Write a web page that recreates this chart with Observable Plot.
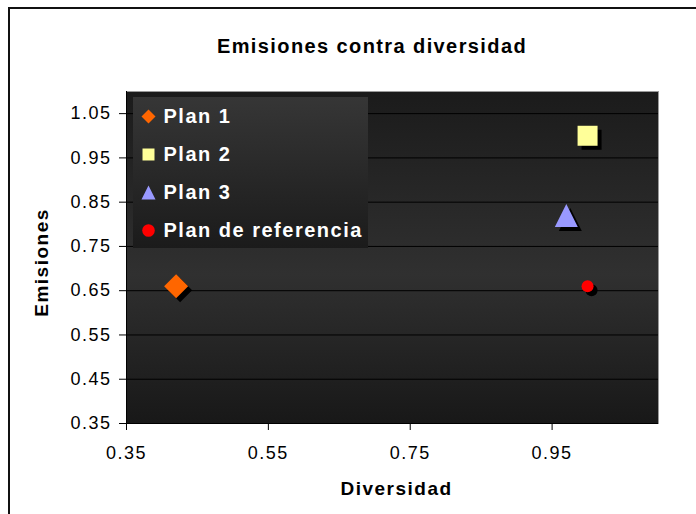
<!DOCTYPE html>
<html><head><meta charset="utf-8">
<script src="https://cdn.jsdelivr.net/npm/d3@7"></script>
<script src="https://cdn.jsdelivr.net/npm/@observablehq/plot@0.6"></script>
<style>
html,body{margin:0;padding:0;background:#fff;}
#wrap{position:relative;width:696px;height:514px;overflow:hidden;font-family:"Liberation Sans",Arial,sans-serif;}
#border{position:absolute;left:8px;top:7px;width:800px;height:600px;border-left:2px solid #111;border-top:2px solid #111;}
#title{position:relative;height:70px;box-sizing:border-box;padding-top:35px;padding-left:48px;text-align:center;font-weight:bold;font-size:20px;line-height:22px;letter-spacing:1.4px;color:#000;}
#chart svg text{letter-spacing:1.5px;}
#chart svg g[aria-label="legend-text"] text{letter-spacing:0.2px;}
#chart svg g[aria-label="axis-title"] text{letter-spacing:1.6px;}
</style></head>
<body><div id="wrap"><div id="border"></div><div id="title">Emisiones contra diversidad</div><div id="chart"></div></div>
<script>
// ---- data ----
const planes = ["Plan 1", "Plan 2", "Plan 3", "Plan de referencia"];
const diversidad = [0.42, 1.00, 0.97, 1.00];
const emisiones = [0.66, 1.00, 0.82, 0.66];
const xTicks = [0.35, 0.55, 0.75, 0.95];
const yTicks = [0.35, 0.45, 0.55, 0.65, 0.75, 0.85, 0.95, 1.05];
const xLabel = "Diversidad";
const yLabel = "Emisiones";

// ---- styles ----
const colors = ["#ff6600", "#ffff99", "#9999ff", "#ff0000"];
const R = v => Math.sqrt(v / Math.PI);
const symbols = [
  {draw(c, s){const r = R(s); c.moveTo(0,-r); c.lineTo(r,0); c.lineTo(0,r); c.lineTo(-r,0); c.closePath();}},
  {draw(c, s){const r = R(s); c.moveTo(-r,-r); c.lineTo(r,-r); c.lineTo(r,r); c.lineTo(-r,r); c.closePath();}},
  {draw(c, s){const r = R(s); c.moveTo(0,-r); c.lineTo(r,r); c.lineTo(-r,r); c.closePath();}},
  {draw(c, s){const r = R(s); c.moveTo(r,0); c.arc(0,0,r,0,2*Math.PI); c.closePath();}}
];
const markR = [12, 10, 11.5, 6];
const legendR = [7, 6, 7, 6.3];

const data = planes.map((p, i) => ({plan: p, diversidad: diversidad[i], emisiones: emisiones[i], i}));

const defs = () => {
  const g = d3.create("svg:g");
  const d = g.append("defs");
  const bg = d.append("linearGradient").attr("id", "bgGrad").attr("x1", 0).attr("y1", 0).attr("x2", 0).attr("y2", 1);
  bg.append("stop").attr("offset", "0").attr("stop-color", "#1b1b1b");
  bg.append("stop").attr("offset", "0.55").attr("stop-color", "#303030");
  bg.append("stop").attr("offset", "1").attr("stop-color", "#181818");
  const lg = d.append("linearGradient").attr("id", "legGrad").attr("x1", 0).attr("y1", 0).attr("x2", 0).attr("y2", 1);
  lg.append("stop").attr("offset", "0").attr("stop-color", "#363636");
  lg.append("stop").attr("offset", "1").attr("stop-color", "#1b1b1b");
  return g.node();
};
const legendBox = (index, scales, values, dim) => {
  const g = d3.create("svg:g");
  g.append("rect").attr("x", dim.marginLeft + 7).attr("y", dim.marginTop + 6)
    .attr("width", 235).attr("height", 151).attr("fill", "url(#legGrad)");
  return g.node();
};

const fmt = d3.format(".2f");
const shadowMarks = data.map(d => Plot.dot([d], {x: "diversidad", y: "emisiones", symbol: symbols[d.i], r: markR[d.i], fill: "#000", dx: 4, dy: 4}));
const pointMarks = data.map(d => Plot.dot([d], {x: "diversidad", y: "emisiones", symbol: symbols[d.i], r: markR[d.i], fill: colors[d.i]}));
const legendDots = planes.map((p, i) => Plot.dot([p], {frameAnchor: "top-left", dx: 22, dy: 25 + i * 38, symbol: symbols[i], r: legendR[i], fill: colors[i]}));
const legendTexts = planes.map((p, i) => Plot.text([p], {frameAnchor: "top-left", dx: 37, dy: 25 + i * 38, text: d => d, textAnchor: "start", lineAnchor: "middle", fill: "#fff", fontWeight: "bold", fontSize: 20, ariaLabel: "legend-text"}));

const chart = Plot.plot({
  width: 696, height: 444,
  marginLeft: 126, marginRight: 38, marginTop: 21, marginBottom: 91,
  style: {fontFamily: '"Liberation Sans", Arial, sans-serif', fontSize: "18px", color: "#000", background: "transparent", overflow: "visible"},
  x: {domain: [0.35, 1.1]},
  y: {domain: [0.35, 1.1]},
  marks: [
    defs,
    Plot.frame({fill: "url(#bgGrad)"}),
    Plot.ruleY(yTicks.slice(1), {stroke: "#000", strokeWidth: 1}),
    Plot.frame({stroke: "#9a9a9a"}),
    Plot.ruleY([yTicks[0]], {stroke: "#000"}),
    Plot.ruleX([xTicks[0]], {stroke: "#000"}),
    Plot.axisY({ticks: yTicks, tickFormat: fmt, tickSize: 7, tickPadding: 8, label: null, stroke: "#000", fill: "#000", fontSize: 18}),
    Plot.axisX({ticks: xTicks, tickFormat: fmt, tickSize: 7, tickPadding: 16, label: null, stroke: "#000", fill: "#000", fontSize: 18}),
    Plot.text([xLabel], {frameAnchor: "bottom", dx: 4, dy: 65, text: d => d, fontWeight: "bold", fontSize: 19, lineAnchor: "middle", fill: "#000", ariaLabel: "axis-title"}),
    Plot.text([yLabel], {frameAnchor: "left", dx: -85, dy: 5, rotate: -90, text: d => d, textAnchor: "middle", fontWeight: "bold", fontSize: 19, lineAnchor: "middle", fill: "#000", ariaLabel: "axis-title"}),
    legendBox,
    ...legendDots,
    ...legendTexts,
    ...shadowMarks,
    ...pointMarks
  ]
});
document.getElementById("chart").append(chart);
</script>
</body></html>
